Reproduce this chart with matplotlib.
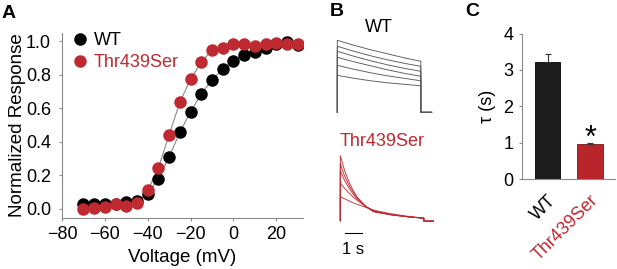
import numpy as np
import matplotlib
matplotlib.use('Agg')
import matplotlib.pyplot as plt

plt.rcParams['font.family'] = ['Liberation Sans', 'DejaVu Sans']

RED = '#be2a30'
GRAY = '#8a8a8a'

# ---- panel A: activation curves
voltage = [-70, -65, -60, -55, -50, -45, -40, -35, -30, -25, -20,
           -15, -10, -5, 0, 5, 10, 15, 20, 25, 30]
wt_resp = [0.026, 0.026, 0.03, 0.03, 0.04, 0.045, 0.09, 0.18, 0.31, 0.456, 0.58,
           0.685, 0.77, 0.833, 0.885, 0.918, 0.934, 0.958, 0.982, 0.998, 0.98]
mut_resp = [0.0, 0.006, 0.01, 0.03, 0.016, 0.032, 0.11, 0.244, 0.442, 0.635, 0.774,
            0.875, 0.948, 0.962, 0.982, 0.986, 0.972, 0.982, 0.99, 0.982, 0.982]

# ---- panel B: current traces (amplitudes, arbitrary units)
wt_t = [0, 1, 2, 3, 4, 5]
wt_traces = [[72, 67, 62.5, 58.5, 54.5, 51],
             [66, 61, 56.5, 52.5, 49, 46],
             [61, 56, 51.5, 47.5, 44, 41],
             [55, 50.5, 46.5, 42.5, 39, 36],
             [47, 43, 39.5, 36.5, 34, 31.5],
             [37, 34, 31.5, 29.5, 28, 26.5]]
mut_t = [0, 0.25, 0.5, 0.75, 1, 1.5, 2, 3, 4, 5]
mut_traces = [[65, 50.6, 39.4, 30.7, 23.9, 14.5, 8.8, 6, 4, 2.5],
              [57, 45, 36, 29, 23, 14.5, 9.2, 6, 4, 2.5],
              [50, 40.5, 33, 27, 22, 14.5, 9.5, 6, 4, 2.5],
              [38, 32.5, 28, 24, 20.5, 14.5, 10, 6.3, 4, 2.5],
              [24, 22, 20, 18, 16.5, 13.5, 10.5, 7, 4.5, 2.5]]

# ---- panel C: time constants
groups = ['WT', 'Thr439Ser']
tau = [3.23, 0.96]
tau_err = [0.2, 0.03]

W, H = 617, 269
fig = plt.figure(figsize=(W / 100, H / 100), dpi=100)


def fx(x):
    return x / W


def fy(y):
    return 1 - y / H


FS = 13

# ---------------- A
ax = fig.add_axes([fx(62), fy(218), fx(303) - fx(62), fy(33) - fy(218)])
ax.plot(voltage, wt_resp, color=GRAY, lw=0.8, zorder=1)
ax.plot(voltage, mut_resp, color=GRAY, lw=0.8, zorder=1)
ax.plot(voltage, wt_resp, 'o', color='black', ms=9, mew=0, label='WT', zorder=2)
ax.plot(voltage, mut_resp, 'o', color=RED, ms=9, mew=0, label='Thr439Ser', zorder=3)
ax.set_xlim(-80, 32.5)
ax.set_ylim(-0.055, 1.05)
ax.set_xticks([-80, -60, -40, -20, 0, 20])
ax.set_yticks([0, 0.2, 0.4, 0.6, 0.8, 1.0])
ax.set_yticklabels(['0.0', '0.2', '0.4', '0.6', '0.8', '1.0'])
for s in ['top', 'right']:
    ax.spines[s].set_visible(False)
for s in ['left', 'bottom']:
    ax.spines[s].set_color(GRAY)
    ax.spines[s].set_linewidth(0.8)
ax.tick_params(length=2, width=0.8, color=GRAY, labelsize=FS)
ax.tick_params(axis='y', pad=6)
ax.tick_params(axis='x', pad=4)
ax.set_xlabel('Voltage (mV)', fontsize=13.5, labelpad=4)
ax.set_ylabel('Normalized Response', fontsize=13.5, labelpad=0)
ax.legend(loc='upper left', bbox_to_anchor=(0.037, 1.005), frameon=False, fontsize=FS,
          handlelength=1.0, handletextpad=0.25, borderaxespad=0, borderpad=0,
          labelspacing=0.3, labelcolor=['black', RED])

# ---------------- B
axb = fig.add_axes([fx(330), fy(240), fx(445) - fx(330), fy(30) - fy(240)])
axb.set_xlim(-0.437, 6.449)
axb.set_ylim(0, 210)
axb.axis('off')
wt_base = 127.7
for tr in wt_traces:
    xs = [0] + wt_t + [wt_t[-1], 5.65]
    ys = [wt_base] + [wt_base + v for v in tr] + [wt_base, wt_base]
    axb.plot(xs, ys, color='#5a5a5a', lw=0.65)
mut_base = 19.3
t0 = 0.18
for tr in mut_traces:
    xs = [t0] + [t0 + t for t in mut_t] + [t0 + mut_t[-1], 5.75]
    ys = [mut_base] + [mut_base + v for v in tr] + [mut_base - 0.5, mut_base - 0.3]
    axb.plot(xs, ys, color=RED, lw=0.7, alpha=0.9)
axb.plot([0.46, 1.46], [7, 7], color='black', lw=0.8)

fig.text(fx(379), fy(28), 'WT', fontsize=FS, ha='center', va='center')
fig.text(fx(382), fy(141.7), 'Thr439Ser', fontsize=FS, ha='center', va='center', color=RED)
fig.text(fx(353), fy(249), '1 s', fontsize=12, ha='center', va='center')

# ---------------- C
axc = fig.add_axes([fx(521.7), fy(179.3), fx(615) - fx(521.7), fy(33.5) - fy(179.3)])
xpos = np.arange(len(groups))
axc.bar(xpos, tau, width=0.59, color=['#1c1c1c', '#b8252b'],
        edgecolor=['#000000', '#7a1518'], linewidth=0.6,
        yerr=[[0, 0], tau_err], error_kw=dict(ecolor='#333333', elinewidth=0.8, capsize=2, capthick=0.8))
axc.text(1, tau[1] + 0.16, '*', fontsize=22, ha='center', va='center')
axc.set_xlim(-0.607, 1.588)
axc.set_ylim(0, 4)
axc.set_yticks([0, 1, 2, 3, 4])
axc.set_xticks(xpos)
axc.set_xticklabels(groups, rotation=45, ha='right', va='top', rotation_mode='anchor', fontsize=FS)
axc.get_xticklabels()[1].set_color(RED)
for s in ['top', 'right']:
    axc.spines[s].set_visible(False)
for s in ['left', 'bottom']:
    axc.spines[s].set_color(GRAY)
    axc.spines[s].set_linewidth(0.8)
axc.tick_params(axis='y', length=2, width=0.8, color=GRAY, labelsize=FS, pad=4)
axc.tick_params(axis='x', length=0, pad=9)
axc.set_ylabel('τ (s)', fontsize=FS, labelpad=5)

# panel letters
fig.text(fx(9), fy(13), 'A', fontsize=14, fontweight='bold', ha='center', va='center')
fig.text(fx(337), fy(12), 'B', fontsize=14, fontweight='bold', ha='center', va='center')
fig.text(fx(472), fy(12), 'C', fontsize=14, fontweight='bold', ha='center', va='center')

fig.savefig('out.png', dpi=100)
